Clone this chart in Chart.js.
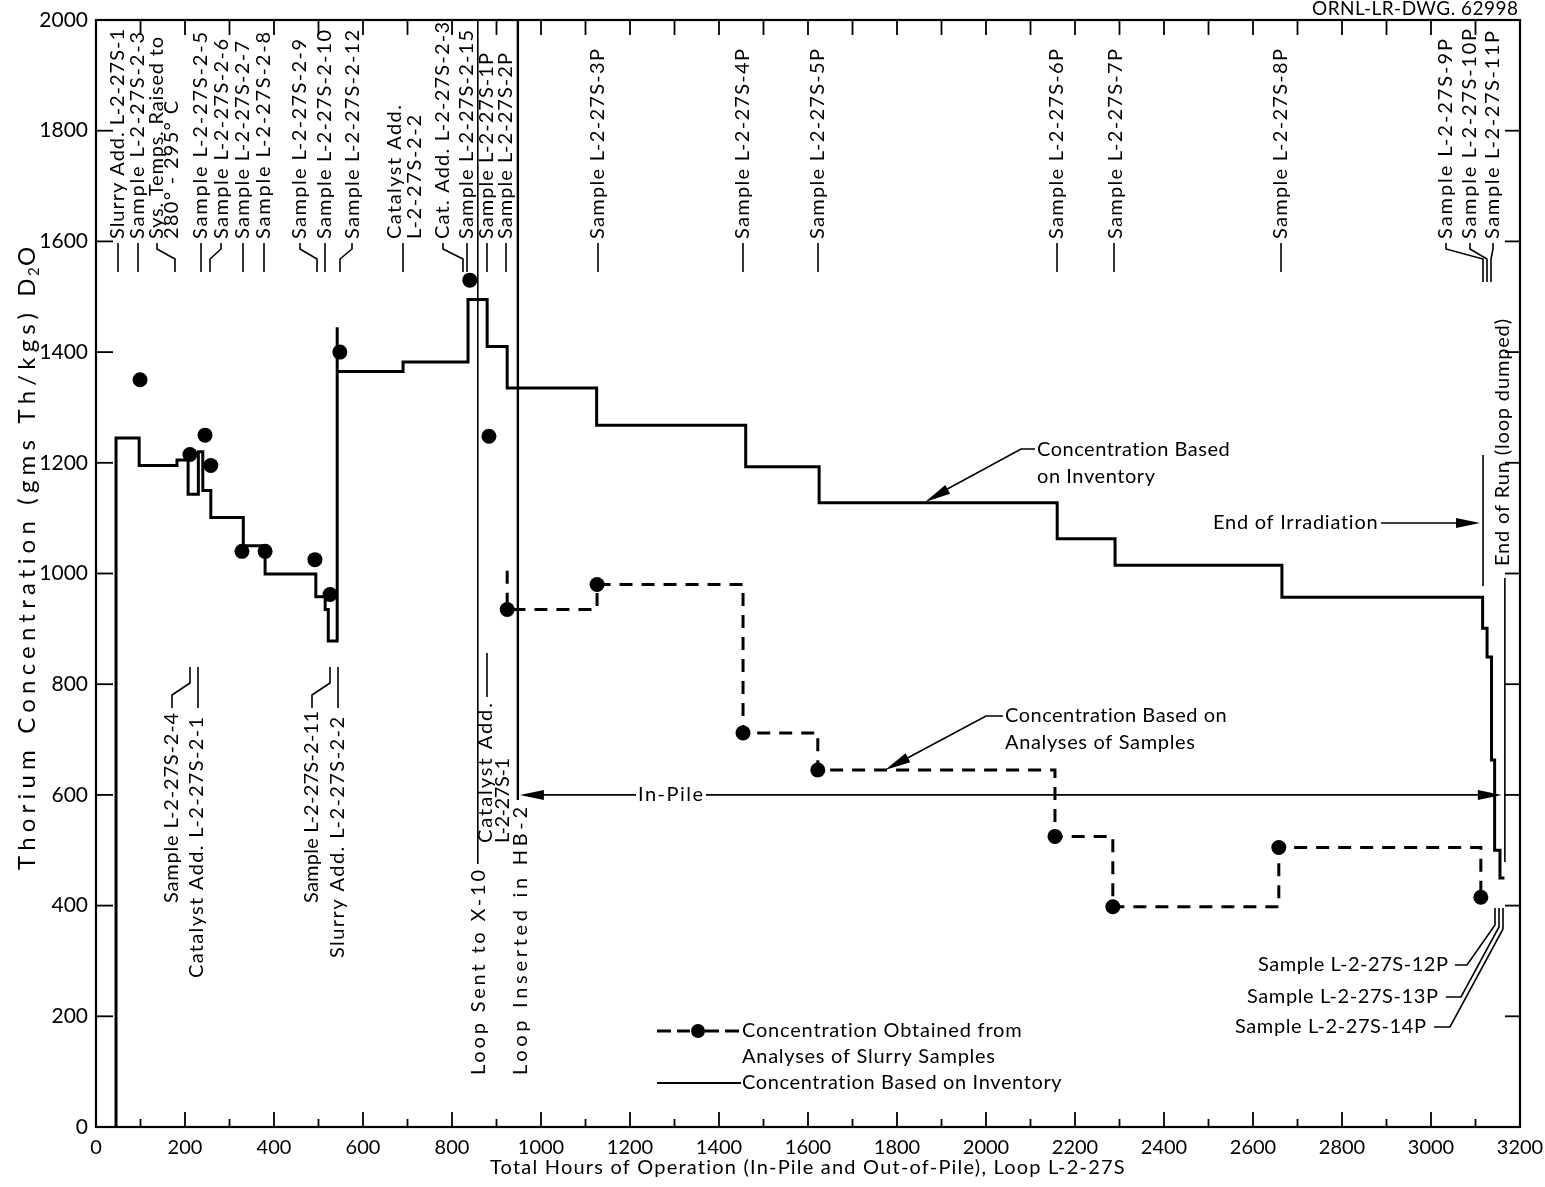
<!DOCTYPE html>
<html>
<head>
<meta charset="utf-8">
<title>Thorium Concentration, Loop L-2-27S</title>
<script src="https://cdn.jsdelivr.net/npm/chart.js@4.4.1/dist/chart.umd.min.js"></script>
<style>
  html, body { margin: 0; padding: 0; background: #fff; }
  canvas { display: block; }
</style>
</head>
<body>
<canvas id="c" width="1545" height="1187" style="width:1545px;height:1187px"></canvas>
<script>
// Thorium concentration computed from the loop inventory (step changes at each event)
const invHours = [45, 45, 97, 182, 207, 230, 240, 258, 331, 380, 494, 515, 522, 542, 542, 690, 836, 879, 924, 1125, 1460, 1625, 2160, 2290, 2665, 3116, 3126, 3136, 3143, 3155, 3165];
const invConc  = [0, 1245, 1195, 1205, 1143, 1220, 1150, 1101, 1050, 999, 958, 935, 878, 1445, 1365, 1382, 1495, 1410, 1335, 1268, 1193, 1128, 1063, 1015, 957, 901, 849, 663, 500, 450, 450];

// Thorium concentration from analyses of slurry samples
const sampleHours = [99, 211, 245, 258, 328, 380, 492, 526, 548, 840, 883, 924, 1126, 1454, 1622, 2155, 2285, 2658, 3112];
const sampleConc  = [1350, 1215, 1250, 1195, 1040, 1040, 1025, 962, 1400, 1530, 1248, 935, 980, 712, 645, 525, 398, 505, 415];

// In-pile analyses are joined by a dashed step line, which starts just above the first in-pile sample
const dashStartHour = 924;
const dashStartConc = 1005;
const dashFromIndex = 11;

// Axis ranges and tick spacing
const xMin = 0, xMax = 3200, xStep = 200;
const yMin = 0, yMax = 2000, yStep = 200;

// Event hours marked on the plot
const loopSentX10Hour = 858;
const loopInsertedHB2Hour = 948;
const endIrradiationHour = 3117;
const endRunHour = 3166;
const inPileLevel = 600;

const FONT = 'Lato, "Noto Sans", sans-serif';

const toPts = (xs, ys) => xs.map((x, i) => ({ x: x, y: ys[i] }));
const dashPts = [{ x: dashStartHour, y: dashStartConc }].concat(
  toPts(sampleHours, sampleConc).slice(dashFromIndex));

function textWidth(ctx, s, size) {
  ctx.save();
  ctx.font = size + 'px ' + FONT;
  ctx.letterSpacing = '0px';
  const w = ctx.measureText(s).width;
  ctx.restore();
  return w;
}

// draws text from its start point, spread by letter spacing over a given length
function fit(ctx, s, x, y, len, o) {
  o = o || {};
  const size = o.size || 20;
  const sp = (len - textWidth(ctx, s, size)) / Math.max(1, s.length - 1);
  ctx.save();
  ctx.font = size + 'px ' + FONT;
  ctx.letterSpacing = sp + 'px';
  ctx.fillStyle = '#000';
  ctx.textAlign = 'left';
  ctx.textBaseline = 'middle';
  ctx.translate(x, y);
  if (o.rot) ctx.rotate(-Math.PI / 2);
  ctx.fillText(s, 0, 0);
  ctx.restore();
}

function poly(ctx, pts, lw) {
  ctx.save();
  ctx.strokeStyle = '#000';
  ctx.lineWidth = lw || 1.6;
  ctx.beginPath();
  ctx.moveTo(pts[0][0], pts[0][1]);
  for (let i = 1; i < pts.length; i++) ctx.lineTo(pts[i][0], pts[i][1]);
  ctx.stroke();
  ctx.restore();
}

function arrowHead(ctx, fromX, fromY, tipX, tipY, len, half) {
  const a = Math.atan2(tipY - fromY, tipX - fromX);
  ctx.save();
  ctx.fillStyle = '#000';
  ctx.beginPath();
  ctx.moveTo(tipX, tipY);
  ctx.lineTo(tipX - len * Math.cos(a) + half * Math.sin(a), tipY - len * Math.sin(a) - half * Math.cos(a));
  ctx.lineTo(tipX - len * Math.cos(a) - half * Math.sin(a), tipY - len * Math.sin(a) + half * Math.cos(a));
  ctx.closePath();
  ctx.fill();
  ctx.restore();
}

// Event labels along the top, read bottom-to-top, each with a leader line below it
// c: text columns, L: text lengths, b: leader foot, k: leader head (when bent)
const topNotes = [
  { t: ['Slurry Add. L-2-27S-1'], c: [118], L: [210], b: 118 },
  { t: ['Sample L-2-27S-2-3'], c: [138], L: [207], b: 138 },
  { t: ['Sys. Temps. Raised to', '280\u00B0 - 295\u00B0 C'], c: [157, 172], L: [202, 138], b: 175, k: 157 },
  { t: ['Sample L-2-27S-2-5'], c: [201], L: [207], b: 201 },
  { t: ['Sample L-2-27S-2-6'], c: [222], L: [200], b: 210, k: 221 },
  { t: ['Sample L-2-27S-2-7'], c: [243], L: [198], b: 243 },
  { t: ['Sample L-2-27S-2-8'], c: [264], L: [207], b: 264 },
  { t: ['Sample L-2-27S-2-9'], c: [300], L: [200], b: 317, k: 300 },
  { t: ['Sample L-2-27S-2-10'], c: [325], L: [209], b: 325 },
  { t: ['Sample L-2-27S-2-12'], c: [353], L: [209], b: 340, k: 352 },
  { t: ['Catalyst Add.', 'L-2-27S-2-2'], c: [395, 415], L: [134, 124], b: 403 },
  { t: ['Cat. Add. L-2-27S-2-3'], c: [443], L: [217], b: 463, k: 443 },
  { t: ['Sample L-2-27S-2-15'], c: [467], L: [209], b: 467 },
  { t: ['Sample L-2-27S-1P'], c: [487], L: [186], b: 487 },
  { t: ['Sample L-2-27S-2P'], c: [506], L: [186], b: 506 },
  { t: ['Sample L-2-27S-3P'], c: [598], L: [190], b: 598 },
  { t: ['Sample L-2-27S-4P'], c: [743], L: [190], b: 743 },
  { t: ['Sample L-2-27S-5P'], c: [818], L: [190], b: 818 },
  { t: ['Sample L-2-27S-6P'], c: [1057], L: [190], b: 1057 },
  { t: ['Sample L-2-27S-7P'], c: [1116], L: [190], b: 1114 },
  { t: ['Sample L-2-27S-8P'], c: [1281], L: [190], b: 1281 },
  { t: ['Sample L-2-27S-9P'], c: [1446], L: [200], b: 1483, k: 1446, lb: 282 },
  { t: ['Sample L-2-27S-10P'], c: [1470], L: [210], b: 1487, k: 1470, lb: 282 },
  { t: ['Sample L-2-27S-11P'], c: [1493], L: [208], b: 1491, k: 1493, lb: 282 }
];

// Event labels low on the plot, read bottom-to-top, leader above
const lowNotes = [
  { t: 'Sample L-2-27S-2-4', c: 172, y0: 903, L: 190, lead: [[172, 708], [172, 695], [190, 683], [190, 667]] },
  { t: 'Catalyst Add. L-2-27S-2-1', c: 197, y0: 978, L: 261, lead: [[198, 708], [198, 667]] },
  { t: 'Sample L-2-27S-2-11', c: 312, y0: 903, L: 192, lead: [[312, 708], [312, 695], [330, 683], [330, 667]] },
  { t: 'Slurry Add. L-2-27S-2-2', c: 338, y0: 958, L: 241, lead: [[338, 708], [338, 667]] }
];

const ticksAndNotes = {
  id: 'ticksAndNotes',
  afterDatasetsDraw(chart) {
    const ctx = chart.ctx;
    const a = chart.chartArea;
    const xs = chart.scales.x, ys = chart.scales.y;
    const X = v => xs.getPixelForValue(v);
    const Y = v => ys.getPixelForValue(v);

    // frame
    ctx.save();
    ctx.strokeStyle = '#000';
    ctx.lineWidth = 2.2;
    ctx.strokeRect(a.left, a.top, a.right - a.left, a.bottom - a.top);
    ctx.restore();

    // inward tick marks
    for (let h = 100; h < xMax; h += 100) {
      const major = h % 200 === 0;
      poly(ctx, [[X(h), a.bottom], [X(h), a.bottom - (major ? 15 : 8)]], 1.8);
      poly(ctx, [[X(h), a.top], [X(h), a.top + 15]], 1.8);
    }
    for (let v = yStep; v < yMax; v += yStep) {
      poly(ctx, [[a.left, Y(v)], [a.left + 17, Y(v)]], 1.8);
      poly(ctx, [[a.right, Y(v)], [a.right - 15, Y(v)]], 1.8);
    }

    // drawing number
    fit(ctx, 'ORNL-LR-DWG. 62998', 1312, 9, 206, { size: 19 });

    // axis titles
    fit(ctx, 'Total Hours of Operation (In-Pile and Out-of-Pile), Loop L-2-27S', 490, 1168, 635, { size: 20 });
    const yt = 'Thorium Concentration (gms Th/kgs) D';
    const ytLen = 592;
    fit(ctx, yt, 27, 870, ytLen, { rot: true, size: 24 });
    const ytEnd = 870 - ytLen - 2;
    fit(ctx, '2', 34, ytEnd, 8, { rot: true, size: 15 });
    fit(ctx, 'O', 27, ytEnd - 10, 18, { rot: true, size: 24 });

    // top event labels
    topNotes.forEach(n => {
      const lb = n.lb || 272;
      const k = n.k !== undefined ? n.k : n.b;
      if (k === n.b) poly(ctx, [[n.b, lb], [n.b, 243]]);
      else poly(ctx, [[n.b, lb], [n.b, 259], [k, 249], [k, 243]]);
      n.t.forEach((s, i) => fit(ctx, s, n.c[i], 239, n.L[i], { rot: true }));
    });

    // low event labels
    lowNotes.forEach(n => {
      poly(ctx, n.lead);
      fit(ctx, n.t, n.c, n.y0, n.L, { rot: true });
    });

    // loop moved to X-10 and inserted in HB-2
    const x10 = X(loopSentX10Hour), hb2 = X(loopInsertedHB2Hour);
    poly(ctx, [[x10, a.top], [x10, 864]], 1.6);
    fit(ctx, 'Loop Sent to X-10', x10 + 1, 1075, 205, { rot: true });
    poly(ctx, [[hb2, a.top], [hb2, 800]], 2.4);
    fit(ctx, 'Loop Inserted in HB-2', hb2 + 3, 1075, 268, { rot: true });
    fit(ctx, 'Catalyst Add.', 486, 843, 140, { rot: true });
    fit(ctx, 'L-2-27S-1', 503, 843, 85, { rot: true });
    poly(ctx, [[487, 697], [487, 653]]);

    // in-pile span
    const ipy = Y(inPileLevel);
    const ipl = hb2 + 2, ipr = X(endRunHour) - 3;
    poly(ctx, [[ipl + 10, ipy], [636, ipy]], 1.6);
    poly(ctx, [[706, ipy], [ipr - 10, ipy]], 1.6);
    arrowHead(ctx, ipl + 30, ipy, ipl, ipy, 24, 5);
    arrowHead(ctx, ipr - 30, ipy, ipr, ipy, 24, 5);
    fit(ctx, 'In-Pile', 638, ipy, 65);

    // end of irradiation
    const eix = X(endIrradiationHour);
    poly(ctx, [[eix, 455], [eix, 586]], 1.6);
    fit(ctx, 'End of Irradiation', 1213, 523, 165);
    poly(ctx, [[1381, 523], [eix - 12, 523]], 1.6);
    arrowHead(ctx, 1400, 523, eix - 3, 523, 24, 5);

    // end of run
    const erx = X(endRunHour);
    poly(ctx, [[erx, 578], [erx, 862]], 1.6);
    fit(ctx, 'End of Run (loop dumped)', 1503, 566, 247, { rot: true });

    // late samples, leaders from below
    fit(ctx, 'Sample L-2-27S-12P', 1258, 965, 190);
    poly(ctx, [[1455, 965], [1467, 965], [1495, 925], [1495, 908]]);
    fit(ctx, 'Sample L-2-27S-13P', 1247, 997, 191);
    poly(ctx, [[1446, 997], [1461, 997], [1499, 927], [1499, 908]]);
    fit(ctx, 'Sample L-2-27S-14P', 1235, 1027, 191);
    poly(ctx, [[1434, 1027], [1450, 1027], [1503, 929], [1503, 908]]);

    // curve call-outs
    fit(ctx, 'Concentration Based', 1037, 450, 193);
    fit(ctx, 'on Inventory', 1037, 477, 118);
    poly(ctx, [[1035, 449], [1021, 449], [940, 493]], 1.6);
    arrowHead(ctx, 1021, 449, 925, 502, 26, 5);

    fit(ctx, 'Concentration Based on', 1005, 716, 222);
    fit(ctx, 'Analyses of Samples', 1005, 743, 190);
    poly(ctx, [[1003, 716], [986, 716], [900, 762]], 1.6);
    arrowHead(ctx, 986, 716, 885, 770, 26, 5);

    // legend
    ctx.save();
    ctx.strokeStyle = '#000';
    ctx.lineWidth = 3;
    [[657, 671], [677, 690], [705, 719], [725, 739]].forEach(d => {
      ctx.beginPath(); ctx.moveTo(d[0], 1031); ctx.lineTo(d[1], 1031); ctx.stroke();
    });
    ctx.fillStyle = '#000';
    ctx.beginPath(); ctx.arc(698, 1031, 7, 0, Math.PI * 2); ctx.fill();
    ctx.lineWidth = 2;
    ctx.beginPath(); ctx.moveTo(657, 1083); ctx.lineTo(741, 1083); ctx.stroke();
    ctx.restore();
    fit(ctx, 'Concentration Obtained from', 742, 1031, 280);
    fit(ctx, 'Analyses of Slurry Samples', 742, 1057, 253);
    fit(ctx, 'Concentration Based on Inventory', 742, 1083, 320);
  }
};

const tickFont = { family: FONT, size: 20 };

new Chart(document.getElementById('c'), {
  type: 'scatter',
  data: {
    datasets: [
      {
        label: 'Concentration Based on Inventory',
        data: toPts(invHours, invConc),
        showLine: true,
        stepped: true,
        borderColor: '#000',
        borderWidth: 3,
        pointRadius: 0,
        fill: false
      },
      {
        label: 'Concentration Obtained from Analyses of Slurry Samples',
        data: dashPts,
        showLine: true,
        stepped: true,
        borderColor: '#000',
        borderWidth: 3,
        borderDash: [13, 9],
        pointRadius: 0,
        fill: false
      },
      {
        label: 'Slurry samples',
        data: toPts(sampleHours, sampleConc),
        showLine: false,
        pointRadius: 7.5,
        pointBackgroundColor: '#000',
        pointBorderColor: '#000',
        pointBorderWidth: 0
      }
    ]
  },
  options: {
    responsive: false,
    animation: false,
    events: [],
    clip: false,
    layout: { padding: { top: 20, right: 25, left: 0, bottom: 0 } },
    plugins: { legend: { display: false }, tooltip: { enabled: false } },
    scales: {
      x: {
        type: 'linear', min: xMin, max: xMax,
        ticks: { stepSize: xStep, color: '#000', font: tickFont, padding: 9, maxRotation: 0, autoSkip: false,
                 callback: v => String(v) },
        grid: { display: false, drawTicks: false },
        border: { display: false },
        afterFit(s) { s.height = 60; s.paddingLeft = 0; s.paddingRight = 0; }
      },
      y: {
        type: 'linear', min: yMin, max: yMax,
        ticks: { stepSize: yStep, color: '#000', font: { family: FONT, size: 21 }, padding: 8,
                 callback: v => String(v) },
        grid: { display: false, drawTicks: false },
        border: { display: false },
        afterFit(s) { s.width = 96; s.paddingTop = 0; s.paddingBottom = 0; }
      }
    }
  },
  plugins: [ticksAndNotes]
});
</script>
</body>
</html>
